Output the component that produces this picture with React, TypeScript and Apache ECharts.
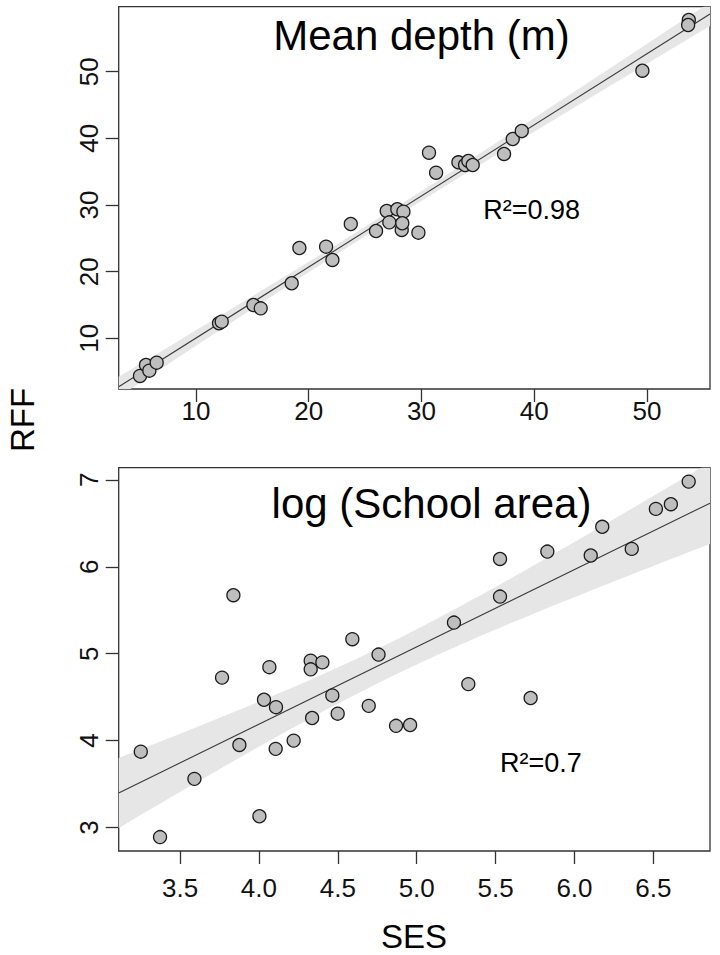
import React, { useEffect, useRef } from "react";
import * as echarts from "echarts";

// Panel 1: Mean depth (m)
const depthSES = [5.03, 5.56, 5.86, 6.51, 12.04, 12.28, 15.09, 15.74, 18.49, 19.17, 21.54, 22.1, 23.73, 25.97, 26.92, 27.15, 27.86, 28.4, 28.25, 28.3, 29.73, 30.67, 31.3, 33.28, 33.87, 34.16, 34.55, 37.33, 38.1, 38.9, 49.6, 53.72, 53.66];
const depthRFF = [4.36, 6.0, 5.15, 6.35, 12.26, 12.5, 15.0, 14.5, 18.26, 23.55, 23.75, 21.76, 27.15, 26.1, 29.1, 27.4, 29.36, 29.0, 26.26, 27.26, 25.85, 37.85, 34.85, 36.41, 36.0, 36.6, 36.0, 37.66, 39.9, 41.1, 50.15, 57.75, 57.0];

// Panel 2: log (School area)
const areaSES = [3.838, 4.592, 4.758, 4.328, 4.402, 4.066, 4.328, 3.766, 4.032, 4.108, 4.465, 4.499, 4.696, 4.337, 4.869, 4.958, 3.251, 3.876, 4.106, 4.22, 3.591, 4.003, 3.373, 5.327, 5.722, 6.724, 6.516, 6.611, 6.176, 5.828, 5.528, 6.103, 6.363, 5.528, 5.236];
const areaRFF = [5.673, 5.167, 4.99, 4.92, 4.9, 4.845, 4.82, 4.725, 4.47, 4.385, 4.52, 4.31, 4.4, 4.26, 4.17, 4.18, 3.873, 3.95, 3.905, 4.0, 3.56, 3.13, 2.89, 4.65, 4.49, 6.98, 6.666, 6.72, 6.46, 6.175, 6.09, 6.13, 6.206, 5.657, 5.358];

const depthTicksX = [10, 20, 30, 40, 50];
const depthTicksY = [10, 20, 30, 40, 50];
const areaTicksX = [3.5, 4.0, 4.5, 5.0, 5.5, 6.0, 6.5];
const areaTicksY = [3, 4, 5, 6, 7];

const titles = ["Mean depth (m)", "log (School area)"];
const r2Labels = ["R\u00b2=0.98", "R\u00b2=0.7"];
const xName = "SES";
const yName = "RFF";

const FONT = "'Liberation Sans', Arial, Helvetica, sans-serif";

function fit(xs: number[], ys: number[], xmin: number, xmax: number) {
  const n = xs.length;
  const mx = xs.reduce((a, b) => a + b, 0) / n;
  const my = ys.reduce((a, b) => a + b, 0) / n;
  let sxx = 0, sxy = 0;
  for (let i = 0; i < n; i++) {
    sxx += (xs[i] - mx) ** 2;
    sxy += (xs[i] - mx) * (ys[i] - my);
  }
  const b = sxy / sxx;
  const a = my - b * mx;
  let sse = 0;
  for (let i = 0; i < n; i++) sse += (ys[i] - a - b * xs[i]) ** 2;
  const s = Math.sqrt(sse / (n - 2));
  const t = 2.037;
  const band: number[][] = [];
  const steps = 60;
  for (let k = 0; k <= steps; k++) {
    const x = xmin + ((xmax - xmin) * k) / steps;
    const yh = a + b * x;
    const se = s * Math.sqrt(1 / n + (x - mx) ** 2 / sxx);
    band.push([x, yh - t * se, yh + t * se]);
  }
  return { a, b, band, line: [[xmin, a + b * xmin], [xmax, a + b * xmax]] };
}

export default function App() {
  const ref = useRef<HTMLDivElement>(null);
  useEffect(() => {
    if (!ref.current) return;
    const chart = echarts.init(ref.current, undefined, { renderer: "svg" });

    const ranges = [
      { xmin: 3.14, xmax: 55.6, ymin: 2.4, ymax: 59.75 },
      { xmin: 3.111, xmax: 6.859, ymin: 2.73, ymax: 7.14 },
    ];
    const f1 = fit(depthSES, depthRFF, ranges[0].xmin, ranges[0].xmax);
    const f2 = fit(areaSES, areaRFF, ranges[1].xmin, ranges[1].xmax);
    const fits = [f1, f2];
    const xsArr = [depthSES, areaSES];
    const ysArr = [depthRFF, areaRFF];
    const ticksX = [depthTicksX, areaTicksX];
    const ticksY = [depthTicksY, areaTicksY];

    const axisCommon = {
      axisLine: { show: false },
      splitLine: { show: false },
      axisTick: { show: true, length: 13, lineStyle: { color: "#333", width: 1.3 } },
    };

    const xAxes = [0, 1].map((i) => ({
      type: "value",
      gridIndex: i,
      min: ranges[i].xmin,
      max: ranges[i].xmax,
      ...axisCommon,
      axisTick: { ...axisCommon.axisTick, customValues: ticksX[i] },
      axisLabel: {
        customValues: ticksX[i],
        fontSize: 26,
        fontFamily: FONT,
        color: "#111",
        margin: i === 0 ? 9 : 24,
        formatter: (v: number) => (i === 1 ? v.toFixed(1) : String(v)),
      },
    }));
    const yAxes = [0, 1].map((i) => ({
      type: "value",
      gridIndex: i,
      min: ranges[i].ymin,
      max: ranges[i].ymax,
      ...axisCommon,
      axisTick: { ...axisCommon.axisTick, customValues: ticksY[i] },
      axisLabel: {
        customValues: ticksY[i],
        fontSize: 26,
        fontFamily: FONT,
        color: "#111",
        rotate: 90,
        margin: 17,
        formatter: (v: number) => String(v),
      },
    }));

    const series: any[] = [];
    [0, 1].forEach((i) => {
      const band = fits[i].band;
      series.push({
        type: "custom",
        xAxisIndex: i,
        yAxisIndex: i,
        clip: true,
        z: 1,
        silent: true,
        data: band,
        encode: { x: 0, y: [1, 2] },
        renderItem: (params: any, api: any) => {
          if (params.dataIndex !== 0) return null;
          const upper = band.map((r) => api.coord([r[0], r[2]]));
          const lower = band.map((r) => api.coord([r[0], r[1]])).reverse();
          return {
            type: "polygon",
            shape: { points: upper.concat(lower) },
            style: { fill: "#e6e6e6", stroke: "none" },
          };
        },
      });
      series.push({
        type: "line",
        xAxisIndex: i,
        yAxisIndex: i,
        z: 2,
        symbol: "none",
        silent: true,
        data: fits[i].line,
        lineStyle: { color: "#3a3a3a", width: 1.1 },
      });
      series.push({
        type: "scatter",
        xAxisIndex: i,
        yAxisIndex: i,
        z: 3,
        symbolSize: 13,
        data: xsArr[i].map((x, k) => [x, ysArr[i][k]]),
        itemStyle: { color: "#bebebe", borderColor: "#1a1a1a", borderWidth: 1.3, opacity: 1 },
      });
    });

    const option: any = {
      animation: false,
      backgroundColor: "#ffffff",
      grid: [
        { left: 118.7, top: 6.7, width: 591.3, height: 382.3, show: true, borderColor: "#333", borderWidth: 1.3, backgroundColor: "transparent" },
        { left: 118.7, top: 467.7, width: 591.3, height: 383.3, show: true, borderColor: "#333", borderWidth: 1.3, backgroundColor: "transparent" },
      ],
      xAxis: xAxes,
      yAxis: yAxes,
      series,
      graphic: [
        { type: "text", x: 421.5, y: 35.7, z: 10, style: { text: titles[0], fontSize: 42, fontFamily: FONT, fill: "#000", align: "center", verticalAlign: "middle" } },
        { type: "text", x: 431.5, y: 503.3, z: 10, style: { text: titles[1], fontSize: 42, fontFamily: FONT, fill: "#000", align: "center", verticalAlign: "middle" } },
        { type: "text", x: 483.3, y: 210, z: 10, style: { text: r2Labels[0], fontSize: 27, fontFamily: FONT, fill: "#000", align: "left", verticalAlign: "middle" } },
        { type: "text", x: 500, y: 763.4, z: 10, style: { text: r2Labels[1], fontSize: 27, fontFamily: FONT, fill: "#000", align: "left", verticalAlign: "middle" } },
        { type: "text", x: 414, y: 936.5, z: 10, style: { text: xName, fontSize: 33, fontFamily: FONT, fill: "#000", align: "center", verticalAlign: "middle" } },
        { type: "text", x: 22, y: 420, rotation: Math.PI / 2, z: 10, style: { text: yName, fontSize: 33, fontFamily: FONT, fill: "#000", align: "center", verticalAlign: "middle" } },
      ],
    };
    chart.setOption(option);
    return () => chart.dispose();
  }, []);
  return <div ref={ref} style={{ position: "absolute", left: 0, top: 0, width: 720, height: 955 }} />;
}
